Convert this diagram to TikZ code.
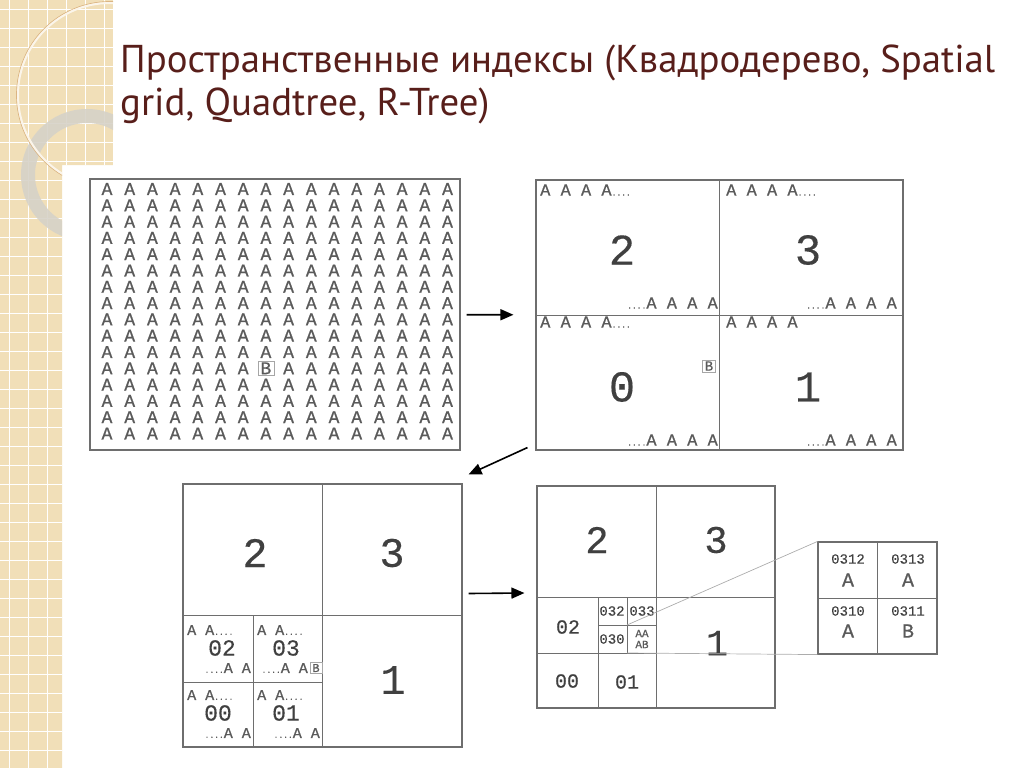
\documentclass[tikz,border=0pt]{standalone}
\usepackage{fontspec}
\setmainfont{PT Sans}
\newfontfamily\typefont[FakeBold=0.8]{Liberation Mono}
\newfontfamily\numfont[FakeBold=0.3]{Liberation Mono}
\usetikzlibrary{positioning,arrows.meta}

\definecolor{titlebrown}{RGB}{88,30,26}
\definecolor{paper}{RGB}{241,223,184}
\definecolor{ringgrey}{RGB}{214,210,200}
\definecolor{ink}{RGB}{90,90,90}
\definecolor{rule}{RGB}{110,110,110}

\newcommand{\fs}[1]{\fontsize{#1}{#1}\selectfont}
\newcommand{\smalldots}{{\fs{8}....}}

\begin{document}
\begin{tikzpicture}[x=1pt, y=-1pt,
  title/.style={font=\fs{38.8}, text=titlebrown, inner sep=0},
  panel/.style={draw=rule, line width=1.1pt, inner sep=0},
  cell/.style={draw=rule, line width=0.7pt},
  letter/.style={font=\typefont\fs{#1}, text=ink, inner sep=0},
  letter/.default=17,
  digit/.style={font=\numfont\fs{#1}, text=black!75, inner sep=0},
  boxed/.style={draw=gray!70, line width=0.5pt, inner xsep=2.5pt, inner ysep=1.5pt},
  zoomline/.style={draw=gray!65, line width=0.7pt},
  arr/.style={-{Triangle[length=13pt, width=11pt]}, line width=1.6pt}]
\useasboundingbox (0,0) rectangle (1024,768);

% slide background
\begin{scope}
  \clip (0,0) -- (113,0) -- (113,165) -- (62,165) -- (62,768) -- (0,768) -- cycle;
  \fill[paper] (0,0) rectangle (113,768);
  \foreach \k in {0,...,5}
    \draw[white, line width=0.9pt] ({\k*19+9},0) -- ({\k*19+9},768);
  \foreach \k in {0,...,40}
    \draw[white, line width=0.9pt] (0,{\k*19+9}) -- (113,{\k*19+9});
  \draw[ringgrey, line width=14pt, opacity=0.9] (87,175) circle[radius=59];
  \draw[paper!55!brown, line width=0.7pt] (110,95) circle[radius=93.5];
  \draw[white!70!paper, line width=2pt] (110,95) circle[radius=92];
\end{scope}

% title
\node[title, anchor=base west] (title-a) at (120,72) {Пространственные индексы (Квадродерево, Spatial};
\node[title, anchor=base west] (title-b) at (120,115) {grid, Quadtree, R-Tree)};

% panels
\node[panel, minimum width=370, minimum height=271] (grid) at (275,314.5) {};
\node[panel, minimum width=367, minimum height=270] (quad) at (719.5,315) {};
\node[panel, minimum width=279, minimum height=263] (deep) at (322.5,615.5) {};
\node[panel, minimum width=238, minimum height=222] (finer) at (656,597) {};
\node[panel, minimum width=119, minimum height=112] (zoomin) at (877.5,598) {};

% full grid of points
\foreach \j in {0,...,15}
  \foreach \i in {0,...,15}{
    \ifnum\numexpr\i*100+\j\relax=711
      \node[letter=18, boxed] (grid-b) at ({107+22.7*\i},{189+16.3*\j}) {B};
    \else
      \node[letter=18] (a-\i-\j) at ({107+22.7*\i},{189+16.3*\j}) {A};
    \fi
  }

% first split
\draw[cell] (quad.north) -- (quad.south) (quad.west) -- (quad.east);
\node[letter, anchor=west] (q2-top) at (540,190) {A A A A\smalldots};
\node[letter, anchor=east] (q2-bot) at (718,303) {\smalldots A A A A};
\node[letter, anchor=west] (q3-top) at (726,190) {A A A A\smalldots};
\node[letter, anchor=east] (q3-bot) at (897,303) {\smalldots A A A A};
\node[letter, anchor=west] (q0-top) at (540,322) {A A A A\smalldots};
\node[letter, anchor=east] (q0-bot) at (718,440) {\smalldots A A A A};
\node[letter, anchor=west] (q1-top) at (726,322) {A A A A};
\node[letter, anchor=east] (q1-bot) at (897,440) {\smalldots A A A A};
\node[digit=44] (q2-num) at (622,250) {2};
\node[digit=44] (q3-num) at (808,250) {3};
\node[digit=44] (q0-num) at (622,387) {0};
\node[digit=44] (q1-num) at (808,387) {1};
\node[letter=14, boxed] (q0-b) at (709,366) {B};

% second split
\draw[cell] (deep.north) -- (deep.south) (deep.west) -- (deep.east);
\draw[cell] (253,616) -- (253,747) (183,682) -- (323,682);
\node[digit=42] (d2-num) at (255,553) {2};
\node[digit=42] (d3-num) at (392,553) {3};
\node[digit=42] (d1-num) at (393,680) {1};
\node[letter=15, anchor=west] (c02-top) at (187,630) {A A\smalldots};
\node[digit=23] (c02-num) at (222,648) {02};
\node[letter=15, anchor=east] (c02-bot) at (251,668) {\smalldots A A};
\node[letter=15, anchor=west] (c03-top) at (257,630) {A A\smalldots};
\node[digit=23] (c03-num) at (286,648) {03};
\node[letter=15, anchor=east] (c03-bot) at (308,668) {\smalldots A A};
\node[letter=12, boxed] (c03-b) at (316,668) {B};
\node[letter=15, anchor=west] (c00-top) at (187,695) {A A\smalldots};
\node[digit=23] (c00-num) at (218,713) {00};
\node[letter=15, anchor=east] (c00-bot) at (251,733) {\smalldots A A};
\node[letter=15, anchor=west] (c01-top) at (257,695) {A A\smalldots};
\node[digit=23] (c01-num) at (286,713) {01};
\node[letter=15, anchor=east] (c01-bot) at (320,733) {\smalldots A A};

% third split
\draw[cell] (finer.north) -- (finer.south) (finer.west) -- (finer.east);
\draw[cell] (598,597) -- (598,708) (537,653) -- (657,653);
\draw[cell] (627,597) -- (627,653) (598,625) -- (657,625);
\node[digit=39] (f2-num) at (597,540) {2};
\node[digit=39] (f3-num) at (716,540) {3};
\node[digit=37] (f1-num) at (717,643) {1};
\node[digit=20] (f02-num) at (568,627) {02};
\node[digit=20] (f00-num) at (567,681) {00};
\node[digit=20] (f01-num) at (627,682) {01};
\node[digit=14] (f032-num) at (612,611) {032};
\node[digit=14] (f033-num) at (642,611) {033};
\node[digit=14] (f030-num) at (612,639) {030};
\node[letter=11, align=center] (f031-pts) at (642,639) {AA\\AB};
\coordinate (c031-nw) at (627,625);
\coordinate (c031-sw) at (627,653);

% enlarged cell 031
\draw[cell] (zoomin.north) -- (zoomin.south) (zoomin.west) -- (zoomin.east);
\node[digit=14] (z0312-num) at (848,559) {0312};
\node[letter=20] (z0312-pt) at (848,580) {A};
\node[digit=14] (z0313-num) at (908,559) {0313};
\node[letter=20] (z0313-pt) at (908,580) {A};
\node[digit=14] (z0310-num) at (848,611) {0310};
\node[letter=20] (z0310-pt) at (848,631) {A};
\node[digit=14] (z0311-num) at (908,611) {0311};
\node[letter=20] (z0311-pt) at (908,631) {B};
\draw[zoomline] (c031-nw) -- (zoomin.north west);
\draw[zoomline] (c031-sw) -- (zoomin.south west);

% steps
\draw[arr, shorten <=6pt, shorten >=22pt] (grid) -- (quad);
\draw[arr] ([shift={(-8,-3)}]quad.south west) -- ([shift={(6,-9)}]deep.north east);
\draw[arr] ([shift={(6,-22)}]deep.east) -- ([shift={(-12,-4)}]finer.west);
\end{tikzpicture}
\end{document}
